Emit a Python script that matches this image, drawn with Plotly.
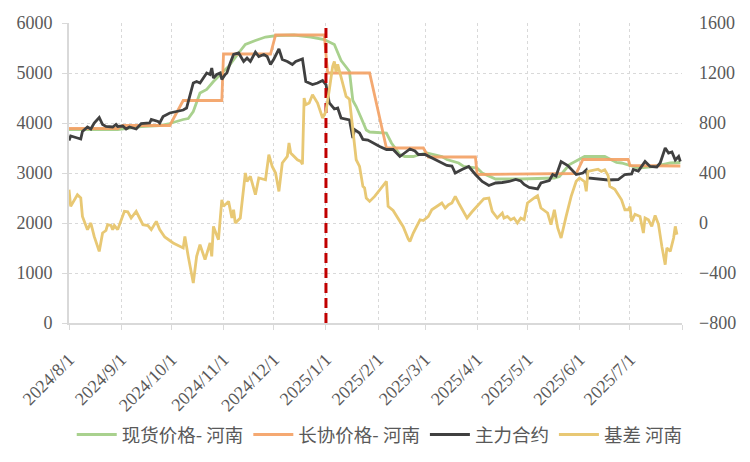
import plotly.graph_objects as go

# ---------------- data ----------------
month_ticks = ["2024-08-01", "2024-09-01", "2024-10-01", "2024-11-01", "2024-12-01",
               "2025-01-01", "2025-02-01", "2025-03-01", "2025-04-01", "2025-05-01",
               "2025-06-01", "2025-07-01", "2025-08-01"]
month_labels = ["2024/8/1", "2024/9/1", "2024/10/1", "2024/11/1", "2024/12/1",
                "2025/1/1", "2025/2/1", "2025/3/1", "2025/4/1", "2025/5/1",
                "2025/6/1", "2025/7/1", ""]

marker_date = "2025-01-01"

spot_dates = ["2024-08-01", "2024-08-30", "2024-09-06", "2024-09-13", "2024-09-24", "2024-09-30",
              "2024-10-08", "2024-10-11", "2024-10-14", "2024-10-16", "2024-10-18", "2024-10-22",
              "2024-10-26", "2024-10-31", "2024-11-04", "2024-11-10", "2024-11-14", "2024-11-20",
              "2024-11-26", "2024-12-03", "2024-12-13", "2024-12-23", "2024-12-31", "2025-01-06",
              "2025-01-10", "2025-01-13", "2025-01-15", "2025-01-17", "2025-01-19", "2025-01-22",
              "2025-01-25", "2025-01-27", "2025-02-06", "2025-02-09", "2025-02-14", "2025-02-17",
              "2025-02-22", "2025-02-25", "2025-03-02", "2025-03-11", "2025-03-14", "2025-03-21",
              "2025-03-24", "2025-04-01", "2025-04-04", "2025-04-12", "2025-04-27", "2025-05-17",
              "2025-05-20", "2025-05-25", "2025-05-26", "2025-06-04", "2025-06-16", "2025-06-23",
              "2025-06-26", "2025-07-03", "2025-07-06", "2025-07-15", "2025-07-25", "2025-07-31"]
spot_vals = [3870, 3870, 3900, 3930, 3950, 3990,
             4070, 4090, 4230, 4400, 4600, 4670,
             4830, 5000, 5130, 5400, 5570, 5650,
             5720, 5750, 5760, 5720, 5670, 5570,
             5250, 5120, 5030, 4450, 4330, 4100,
             3860, 3820, 3800, 3600, 3370, 3330,
             3330, 3360, 3400, 3330, 3270, 3200,
             3130, 3100, 3000, 2880, 2880, 2900,
             2930, 3130, 3170, 3330, 3330, 3210,
             3200, 3130, 3100, 3130, 3200, 3210]

contract_dates = ["2024-08-01", "2024-08-30", "2024-09-02", "2024-09-30", "2024-10-08", "2024-10-31",
                  "2024-11-01", "2024-11-29", "2024-12-02", "2024-12-31", "2025-01-02", "2025-01-27",
                  "2025-02-06", "2025-02-28", "2025-03-03", "2025-03-31", "2025-04-01", "2025-05-30",
                  "2025-06-03", "2025-06-30", "2025-07-01", "2025-07-31"]
contract_vals = [3890, 3890, 3950, 3950, 4450, 4450,
                 5380, 5380, 5760, 5760, 5000, 5000,
                 3500, 3500, 3320, 3320, 2970, 2990,
                 3270, 3270, 3150, 3140]

futures_dates = ["2024-08-01", "2024-08-02", "2024-08-06", "2024-08-08", "2024-08-09", "2024-08-12",
                 "2024-08-14", "2024-08-16", "2024-08-19", "2024-08-21", "2024-08-23", "2024-08-27",
                 "2024-08-29", "2024-08-30", "2024-09-02", "2024-09-04", "2024-09-06", "2024-09-10",
                 "2024-09-13", "2024-09-18", "2024-09-19", "2024-09-23", "2024-09-24", "2024-09-26",
                 "2024-09-30", "2024-10-08", "2024-10-10", "2024-10-12", "2024-10-14", "2024-10-16",
                 "2024-10-18", "2024-10-20", "2024-10-22", "2024-10-24", "2024-10-25", "2024-10-26",
                 "2024-10-28", "2024-10-30", "2024-10-31", "2024-11-02", "2024-11-03", "2024-11-05",
                 "2024-11-07", "2024-11-10", "2024-11-13", "2024-11-15", "2024-11-17", "2024-11-20",
                 "2024-11-22", "2024-11-25", "2024-11-27", "2024-11-29", "2024-12-01", "2024-12-04",
                 "2024-12-06", "2024-12-09", "2024-12-12", "2024-12-14", "2024-12-16", "2024-12-18",
                 "2024-12-20", "2024-12-22", "2024-12-24", "2024-12-27", "2024-12-30", "2025-01-01",
                 "2025-01-03", "2025-01-06", "2025-01-08", "2025-01-10", "2025-01-13", "2025-01-15",
                 "2025-01-17", "2025-01-18", "2025-01-21", "2025-01-23", "2025-01-26", "2025-01-29",
                 "2025-02-02", "2025-02-06", "2025-02-10", "2025-02-14", "2025-02-17", "2025-02-20",
                 "2025-02-23", "2025-02-25", "2025-03-01", "2025-03-05", "2025-03-09", "2025-03-14",
                 "2025-03-17", "2025-03-19", "2025-03-23", "2025-03-27", "2025-03-31", "2025-04-04",
                 "2025-04-08", "2025-04-12", "2025-04-16", "2025-04-20", "2025-04-24", "2025-04-27",
                 "2025-04-29", "2025-05-02", "2025-05-07", "2025-05-09", "2025-05-14", "2025-05-16",
                 "2025-05-18", "2025-05-21", "2025-05-25", "2025-05-30", "2025-06-03", "2025-06-05",
                 "2025-06-06", "2025-06-13", "2025-06-18", "2025-06-24", "2025-06-28", "2025-07-02",
                 "2025-07-03", "2025-07-06", "2025-07-10", "2025-07-13", "2025-07-17", "2025-07-19",
                 "2025-07-22", "2025-07-24", "2025-07-26", "2025-07-28", "2025-07-30", "2025-07-31"]
futures_vals = [3650, 3740, 3700, 3680, 3830, 3920,
                3880, 4000, 4110, 3970, 3930, 3920,
                3970, 3930, 3940, 3880, 3920, 3880,
                3990, 4000, 4070, 4030, 4000, 4130,
                4200, 4260, 4300, 4530, 4800, 4830,
                4800, 4900, 5000, 4970, 5100, 4900,
                4970, 5000, 4870, 4970, 5000, 5200,
                5370, 5400, 5230, 5300, 5230, 5420,
                5330, 5370, 5330, 5170, 5280, 5480,
                5270, 5230, 5170, 5230, 5250, 5280,
                4830, 4800, 4770, 4800, 4850, 4770,
                4400, 4280, 4300, 4100, 4070, 4060,
                3700, 3870, 3800, 3670, 3660, 3600,
                3530, 3470, 3470, 3330, 3410, 3480,
                3440, 3370, 3370, 3300, 3230, 3150,
                3140, 3000, 3070, 3130, 2970, 2830,
                2750, 2800, 2810, 2830, 2870, 2840,
                2770, 2710, 2680, 2800, 2850, 2970,
                2940, 3230, 3150, 2970, 3000, 3060,
                2900, 2880, 2860, 2870, 2970, 2980,
                3070, 3040, 3230, 3130, 3120, 3200,
                3500, 3400, 3420, 3260, 3330, 3230]

basis_dates = ["2024-08-01", "2024-08-02", "2024-08-06", "2024-08-08", "2024-08-09", "2024-08-12",
               "2024-08-14", "2024-08-16", "2024-08-19", "2024-08-21", "2024-08-23", "2024-08-24",
               "2024-08-26", "2024-08-27", "2024-08-28", "2024-08-30", "2024-09-03", "2024-09-05",
               "2024-09-07", "2024-09-10", "2024-09-12", "2024-09-14", "2024-09-17", "2024-09-19",
               "2024-09-22", "2024-09-24", "2024-09-27", "2024-10-02", "2024-10-08", "2024-10-09",
               "2024-10-11", "2024-10-14", "2024-10-16", "2024-10-18", "2024-10-21", "2024-10-24",
               "2024-10-25", "2024-10-26", "2024-10-29", "2024-10-31", "2024-11-01", "2024-11-04",
               "2024-11-06", "2024-11-07", "2024-11-08", "2024-11-11", "2024-11-14", "2024-11-15",
               "2024-11-17", "2024-11-20", "2024-11-22", "2024-11-26", "2024-11-28", "2024-11-30",
               "2024-12-02", "2024-12-04", "2024-12-06", "2024-12-09", "2024-12-10", "2024-12-11",
               "2024-12-15", "2024-12-17", "2024-12-18", "2024-12-19", "2024-12-20", "2024-12-22",
               "2024-12-24", "2024-12-27", "2024-12-30", "2025-01-01", "2025-01-03", "2025-01-05",
               "2025-01-06", "2025-01-07", "2025-01-08", "2025-01-10", "2025-01-13", "2025-01-15",
               "2025-01-17", "2025-01-19", "2025-01-21", "2025-01-23", "2025-01-24", "2025-01-25",
               "2025-01-27", "2025-01-30", "2025-02-06", "2025-02-07", "2025-02-10", "2025-02-13",
               "2025-02-16", "2025-02-19", "2025-02-20", "2025-02-22", "2025-02-26", "2025-02-28",
               "2025-03-03", "2025-03-05", "2025-03-09", "2025-03-11", "2025-03-13", "2025-03-15",
               "2025-03-17", "2025-03-19", "2025-03-21", "2025-03-24", "2025-03-26", "2025-03-29",
               "2025-04-01", "2025-04-02", "2025-04-05", "2025-04-08", "2025-04-10", "2025-04-13",
               "2025-04-16", "2025-04-17", "2025-04-19", "2025-04-21", "2025-04-23", "2025-04-25",
               "2025-04-27", "2025-04-29", "2025-05-01", "2025-05-05", "2025-05-07", "2025-05-09",
               "2025-05-13", "2025-05-15", "2025-05-17", "2025-05-19", "2025-05-21", "2025-05-24",
               "2025-05-27", "2025-05-30", "2025-06-01", "2025-06-04", "2025-06-05", "2025-06-06",
               "2025-06-09", "2025-06-12", "2025-06-14", "2025-06-16", "2025-06-18", "2025-06-19",
               "2025-06-22", "2025-06-26", "2025-06-28", "2025-06-30", "2025-07-01", "2025-07-02",
               "2025-07-04", "2025-07-07", "2025-07-09", "2025-07-10", "2025-07-12", "2025-07-14",
               "2025-07-16", "2025-07-18", "2025-07-20", "2025-07-22", "2025-07-23", "2025-07-25",
               "2025-07-27", "2025-07-28", "2025-07-29"]
basis_vals = [266, 133, 226, 200, 53, -53,
              0, -107, -227, -80, -60, -13,
              -20, -53, -20, -53, 93, 90,
              40, 93, 40, -13, -20, -53,
              13, -53, -112, -160, -200, -107,
              -267, -480, -267, -173, -293, -160,
              -267, -27, -133, 186, 133, 173,
              40, 106, 0, 40, 400, 333,
              373, 226, 360, 346, 546, 453,
              400, 253, 480, 533, 640, 560,
              506, 493, 470, 1000, 946, 960,
              1026, 960, 840, 893, 1066, 1253,
              1293, 1210, 1270, 1160, 1013, 990,
              746, 506, 453, 293, 280, 200,
              173, 213, 333, 133, 100, 40,
              -30, -128, -147, -80, 26, 20,
              53, 106, 146, 160, 120, 146,
              160, 213, 160, 93, 40, 90,
              133, 150, 193, 200, 93, 40,
              80, 40, 53, 26, 40, 0,
              40, 26, 160, 200, 218, 120,
              80, -13, 106, -40, -120, 53,
              213, 333, 360, 330, 253, 413,
              420, 430, 413, 426, 380, 293,
              270, 186, 106, 106, 130, 13,
              70, 53, -80, 40, 26, -27,
              60, -10, -187, -333, -200, -227,
              -120, -27, -93]

# ---------------- figure ----------------
tick_font = dict(family="Liberation Serif", size=18, color="#595959")
grid_col = "#D9D9D9"
lw = 2.8

fig = go.Figure()
fig.add_trace(go.Scatter(x=spot_dates, y=spot_vals, name="现货价格- 河南", mode="lines",
                         line=dict(color="#A9D18E", width=lw)))
fig.add_trace(go.Scatter(x=contract_dates, y=contract_vals, name="长协价格- 河南", mode="lines",
                         line=dict(color="#F4A266", width=lw), opacity=0.92))
fig.add_trace(go.Scatter(x=futures_dates, y=futures_vals, name="主力合约", mode="lines",
                         line=dict(color="#404040", width=lw)))
fig.add_trace(go.Scatter(x=basis_dates, y=basis_vals, name="基差 河南", mode="lines",
                         line=dict(color="#E8C874", width=lw), yaxis="y2"))
fig.add_trace(go.Scatter(x=[marker_date, marker_date], y=[0, 6000], mode="lines",
                         line=dict(color="#C00000", width=3, dash="10px,5px"),
                         showlegend=False, hoverinfo="skip"))

# the page body adds an 8px offset, so the figure is sized 742x454
fig.update_layout(
    width=742, height=454,
    margin=dict(l=61, r=68, t=15, b=139, autoexpand=False),
    plot_bgcolor="white", paper_bgcolor="white",
    showlegend=True,
    legend=dict(orientation="h", xref="container", yref="container",
                x=0.501, xanchor="center", y=0.0595, yanchor="middle",
                font=dict(family="Noto Sans CJK SC", size=18.5, color="#595959"),
                itemwidth=40, tracegroupgap=0),
    xaxis=dict(type="date", range=["2024-08-01", "2025-08-01"],
               tickmode="array", tickvals=month_ticks, ticktext=month_labels,
               tickangle=-45, tickfont=tick_font,
               showgrid=True, gridcolor=grid_col, griddash="dot", gridwidth=1,
               showline=True, linecolor=grid_col, linewidth=2,
               ticks="outside", ticklen=5, tickcolor=grid_col, zeroline=False,
               ticklabelstandoff=12),
    yaxis=dict(range=[0, 6000], dtick=1000, tickfont=tick_font,
               showgrid=True, gridcolor=grid_col, griddash="dot", gridwidth=1,
               showline=True, linecolor=grid_col, linewidth=2,
               ticks="outside", ticklen=5, tickcolor=grid_col, zeroline=False,
               ticklabelstandoff=6),
    yaxis2=dict(range=[-800, 1600], dtick=400, tickfont=tick_font, overlaying="y",
                side="right", showgrid=False, showline=False, zeroline=False,
                ticks="", ticklabelstandoff=16),
)

fig.write_html("out.html")
